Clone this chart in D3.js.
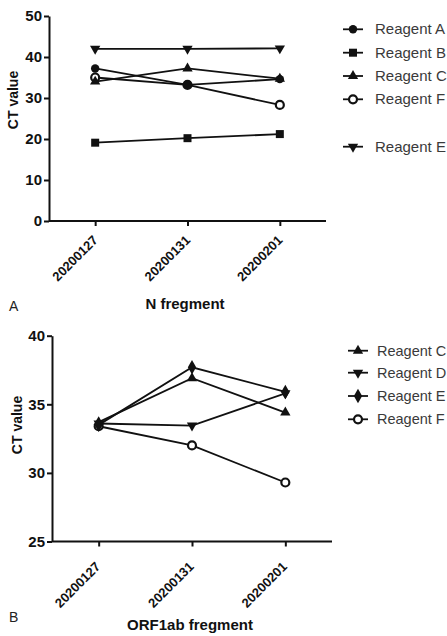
<!DOCTYPE html>
<html>
<head>
<meta charset="utf-8">
<script src="https://cdn.jsdelivr.net/npm/d3@7"></script>
<style>
  body { margin: 0; background: #fff; }
  svg { display: block; font-family: "Liberation Sans", Arial, sans-serif; }
  .axis path, .axis line { stroke: #111; stroke-width: 2; }
  .axis text { fill: #111; font-weight: bold; }
  .legend text { fill: #3a3a3a; }
</style>
</head>
<body>
<div id="canvas"></div>
<script>
// categories and tick labels
var dates = ['20200127', '20200131', '20200201'];
var nTicks = [0, 10, 20, 30, 40, 50];
var orfTicks = [25, 30, 35, 40];

// panel A, N fragment
var nNames = ['Reagent A', 'Reagent B', 'Reagent C', 'Reagent F', 'Reagent E'];
var nA = [37.2, 33.2, 34.6];
var nB = [19.1, 20.2, 21.2];
var nC = [34.0, 37.2, 34.7];
var nF = [35.0, 33.2, 28.3];
var nE = [42.0, 42.0, 42.1];

// panel B, ORF1ab fragment
var orfNames = ['Reagent C', 'Reagent D', 'Reagent E', 'Reagent F'];
var orfC = [33.7, 36.9, 34.4];
var orfD = [33.6, 33.45, 35.8];
var orfE = [33.5, 37.7, 35.9];
var orfF = [33.4, 32.0, 29.3];

var W = 447, H = 636;
var svg = d3.select('#canvas').append('svg')
    .attr('width', W).attr('height', H);

// marker shapes
function marker(g, kind) {
    var p;
    if (kind == 'circle') p = g.append('circle').attr('r', 4.2).attr('fill', '#111');
    else if (kind == 'open') p = g.append('circle').attr('r', 4).attr('fill', '#fff')
        .attr('stroke', '#111').attr('stroke-width', 2.2);
    else if (kind == 'square') p = g.append('path').attr('d', d3.symbol(d3.symbolSquare, 64)()).attr('fill', '#111');
    else if (kind == 'up') p = g.append('path').attr('d', d3.symbol(d3.symbolTriangle, 46)()).attr('fill', '#111');
    else if (kind == 'down') p = g.append('path').attr('d', d3.symbol(d3.symbolTriangle, 46)())
        .attr('transform', 'rotate(180)').attr('fill', '#111');
    else if (kind == 'diamond') p = g.append('path').attr('d', d3.symbol(d3.symbolDiamond, 60)()).attr('fill', '#111');
    return p;
}

function panel(o) {
    var x = d3.scalePoint().domain(dates).range(o.xr).padding(0.5);
    var y = d3.scaleLinear().domain(o.yd).range(o.yr);
    var g = svg.append('g');

    var line = d3.line()
        .x(function(d, i) { return x(dates[i]); })
        .y(function(d) { return y(d); });

    o.series.forEach(function(s) {
        g.append('path').datum(s.values)
            .attr('d', line)
            .attr('fill', 'none')
            .attr('stroke', '#111')
            .attr('stroke-width', 1.8);
    });
    o.series.forEach(function(s) {
        s.values.forEach(function(v, i) {
            var m = g.append('g').attr('transform', 'translate(' + x(dates[i]) + ',' + y(v) + ')');
            marker(m, s.shape);
        });
    });

    // axes
    var ax = g.append('g').attr('class', 'axis')
        .attr('transform', 'translate(0,' + o.yr[0] + ')')
        .call(d3.axisBottom(x).tickSizeOuter(0).tickSize(5));
    ax.select('.domain').attr('d', 'M' + o.xr[0] + ',0H' + o.xr[1]);
    ax.selectAll('text')
        .attr('x', 0).attr('y', 0).attr('dy', 0)
        .attr('transform', 'translate(' + o.lab[0] + ',' + o.lab[1] + ') rotate(-45)')
        .style('text-anchor', 'end')
        .style('font-size', '13px');

    var ay = g.append('g').attr('class', 'axis')
        .attr('transform', 'translate(' + o.xr[0] + ',0)')
        .call(d3.axisLeft(y).tickValues(o.ticks).tickSize(5).tickSizeOuter(0).tickPadding(2));
    ay.selectAll('text').style('font-size', '15px');

    // axis titles
    g.append('text')
        .attr('transform', 'translate(' + o.ylab[0] + ',' + o.ylab[1] + ') rotate(-90)')
        .attr('text-anchor', 'middle')
        .style('font-weight', 'bold').style('font-size', '14px').attr('fill', '#111')
        .text('CT value');
    g.append('text')
        .attr('x', o.title[0]).attr('y', o.title[1])
        .attr('text-anchor', 'middle')
        .style('font-weight', 'bold').style('font-size', '15px').attr('fill', '#111')
        .text(o.titleText);
    g.append('text')
        .attr('x', 9).attr('y', o.letter)
        .style('font-size', '14px').attr('fill', '#222')
        .text(o.letterText);

    // legend
    var lg = g.append('g').attr('class', 'legend');
    o.legend.forEach(function(s, i) {
        var ly = o.legY[i];
        var row = lg.append('g').attr('transform', 'translate(' + o.legX + ',' + ly + ')');
        row.append('line').attr('x1', 0).attr('x2', 20)
            .attr('stroke', '#111').attr('stroke-width', 1.8);
        marker(row.append('g').attr('transform', 'translate(10,0)'), s.shape);
        row.append('text').attr('x', o.legT).attr('y', 5)
            .style('font-size', o.legF + 'px').text(s.name);
    });
}

var seriesA = [
    {name: nNames[3], values: nF, shape: 'open'},
    {name: nNames[0], values: nA, shape: 'circle'},
    {name: nNames[1], values: nB, shape: 'square'},
    {name: nNames[2], values: nC, shape: 'up'},
    {name: nNames[4], values: nE, shape: 'down'}
];
panel({
    xr: [49, 326], yr: [221, 16], yd: [0, 50], ticks: nTicks,
    series: seriesA,
    legend: [seriesA[1], seriesA[2], seriesA[3], seriesA[0], seriesA[4]],
    legX: 343, legT: 32, legF: 15, legY: [29.3, 52.7, 76, 99.3, 146.7],
    lab: [3, 20], ylab: [18, 100], title: [185, 308.5], titleText: 'N fregment',
    letter: 311, letterText: 'A'
});

var seriesB = [
    {name: orfNames[3], values: orfF, shape: 'open'},
    {name: orfNames[0], values: orfC, shape: 'up'},
    {name: orfNames[1], values: orfD, shape: 'down'},
    {name: orfNames[2], values: orfE, shape: 'diamond'}
];
panel({
    xr: [52, 332], yr: [541.5, 335.7], yd: [25, 40], ticks: orfTicks,
    series: seriesB,
    legend: [seriesB[1], seriesB[2], seriesB[3], seriesB[0]],
    legX: 348, legT: 29, legF: 14.5, legY: [350.7, 372.7, 396, 419.3],
    lab: [2, 26], ylab: [22, 425], title: [190, 630], titleText: 'ORF1ab fregment',
    letter: 621.5, letterText: 'B'
});
</script>
</body>
</html>
